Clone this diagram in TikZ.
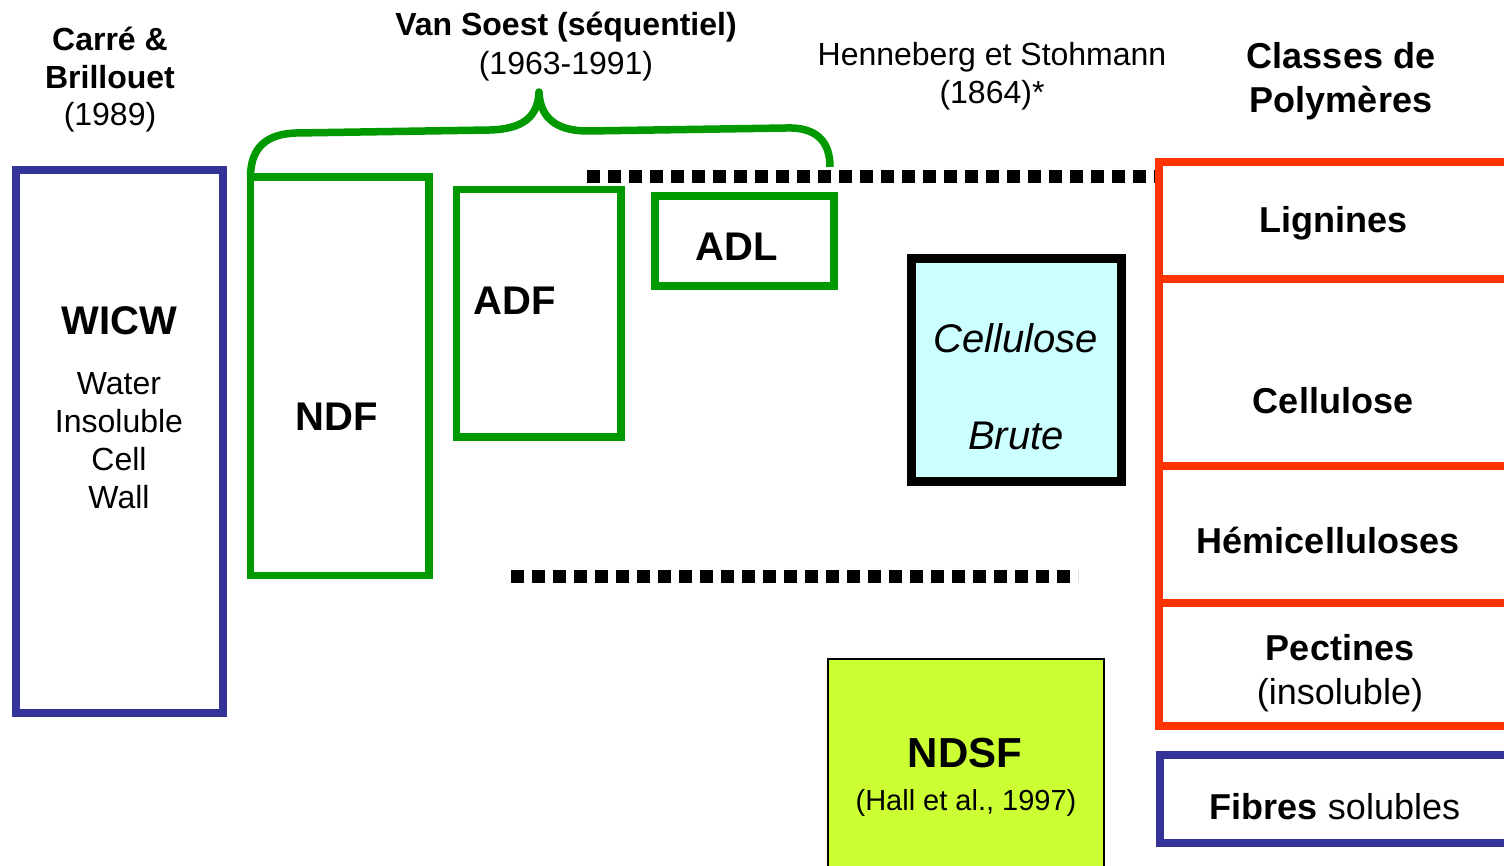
\documentclass[tikz,border=0pt]{standalone}
\usepackage{fontspec}
\setmainfont{Liberation Sans}
\definecolor{wblue}{HTML}{333399}
\definecolor{vgreen}{HTML}{009900}
\definecolor{pred}{HTML}{FF3300}
\definecolor{cbfill}{HTML}{CCFFFF}
\definecolor{ndsffill}{HTML}{CCFF33}
\newcommand{\fs}[2]{\fontsize{#1}{#2}\selectfont}
\tikzset{
  box/.style={draw, rectangle, inner sep=0pt, outer sep=0pt},
  bluebox/.style={box, draw=wblue, line width=8pt},
  greenbox/.style={box, draw=vgreen, line width=7.5pt},
  redbox/.style={box, draw=pred, line width=7.5pt},
  txt/.style={inner sep=0pt, align=center},
  dots/.style={line width=13pt, dash pattern=on 13pt off 8pt}
}
\begin{document}
\begin{tikzpicture}[x=1pt, y=-1pt]
\useasboundingbox (0,0) rectangle (1504,866);
\clip (0,0) rectangle (1504,866);
\fill[white] (0,0) rectangle (1504,866);

% dotted lines
\coordinate (d1a) at (587,176.5);
\coordinate (d1b) at (1156,176.5);
\coordinate (d2a) at (511,576);
\coordinate (d2b) at (1078,576);
\draw[dots] (d1a) -- (d1b);
\draw[dots] (d2a) -- (d2b);

% boxes
\node[bluebox, minimum width=206.5pt, minimum height=543pt] (wicw) at (119.25,441.5) {};
\node[greenbox, minimum width=178.5pt, minimum height=398.5pt] (ndf) at (339.75,376.25) {};
\node[greenbox, minimum width=164.3pt, minimum height=247.5pt] (adf) at (538.85,313.25) {};
\node[greenbox, minimum width=179pt, minimum height=90pt] (adl) at (744.5,241) {};
\node[box, draw=black, fill=cbfill, line width=9pt, minimum width=210pt, minimum height=222pt] (cb) at (1016,370) {};

\node[redbox, minimum width=371pt, minimum height=117pt] (rlig) at (1344.5,220.5) {};
\node[redbox, minimum width=371pt, minimum height=187pt] (rcel) at (1344.5,372.5) {};
\node[redbox, minimum width=371pt, minimum height=137pt] (rhem) at (1344.5,534.5) {};
\node[redbox, minimum width=371pt, minimum height=123pt] (rpec) at (1344.5,664.5) {};
\node[bluebox, minimum width=370pt, minimum height=88pt] (fib) at (1345,799) {};
\node[box, draw=black, fill=ndsffill, line width=1.5pt, minimum width=276pt, minimum height=260pt] (ndsf) at (966,789) {};

% brace
\coordinate (btip) at (539,92);
\coordinate (bend) at (830,167);
\draw[vgreen, line width=7.5pt, line join=round]
  (ndf.north west) .. controls (250.5,148) and (266,134) .. (296,133)
  -- (490,130) .. controls (524,129) and (538,116) .. (btip)
  .. controls (540,116) and (554,131) .. (588,131)
  -- (786,128) .. controls (815,127) and (830,140) .. (bend);

% header texts
\node[txt, font=\fs{32}{37.5}] (t-cb) at (110,80) {\textbf{Carré \&}\\\textbf{Brillouet}\\(1989)};
\node[txt, font=\fs{32}{39}] (t-vs) at (566,47) {\textbf{Van Soest (séquentiel)}\\(1963-1991)};
\node[txt, font=\fs{32}{38}] (t-hs) at (992,76) {Henneberg et Stohmann\\(1864)*};
\node[txt, font=\fs{36}{44}\bfseries] (t-cp) at (1341,81) {Classes de\\Polymères};

% box texts
\node[txt, font=\fs{40}{48}\bfseries] (t-wicw) at (119,321) {WICW};
\node[txt, font=\fs{32}{38}] (t-water) at (119,441) {Water\\Insoluble\\Cell\\Wall};
\node[txt, font=\fs{40}{48}\bfseries] (t-ndf) at (337,417) {NDF};
\node[txt, font=\fs{40}{48}\bfseries] (t-adf) at (515,301) {ADF};
\node[txt, font=\fs{40}{48}\bfseries] (t-adl) at (737,247) {ADL};
\node[txt, font=\fs{40}{48}\itshape] (t-cel) at (1016,338) {Cellulose};
\node[txt, font=\fs{40}{48}\itshape] (t-bru) at (1016,436) {Brute};

\node[txt, font=\fs{36}{44}\bfseries] (t-lig) at (1333,223) {Lignines};
\node[txt, font=\fs{36}{44}\bfseries] (t-cel2) at (1333,401) {Cellulose};
\node[txt, font=\fs{36}{44}\bfseries] (t-hem) at (1328,540) {Hémicelluloses};
\node[txt, font=\fs{36}{44}] (t-pec) at (1340,673) {\textbf{Pectines}\\(insoluble)};
\node[txt, font=\fs{36}{44}] (t-fib) at (1335,807) {\textbf{Fibres} solubles};

\node[txt, font=\fs{42}{48}\bfseries] (t-ndsf) at (965,753) {NDSF};
\node[txt, font=\fs{29}{34}] (t-hall) at (966,803) {(Hall et al., 1997)};
\end{tikzpicture}
\end{document}
